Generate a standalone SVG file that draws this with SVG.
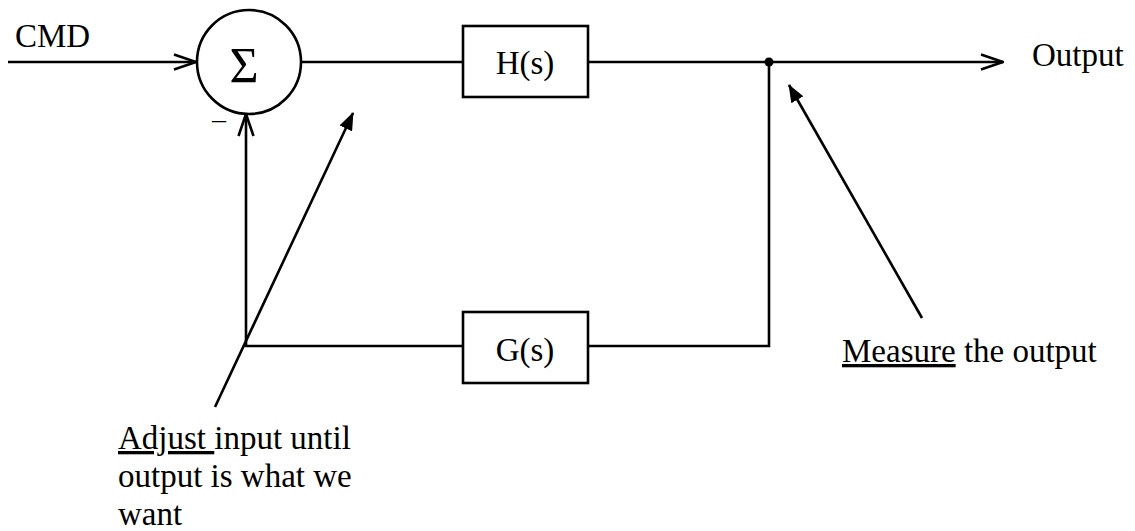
<svg xmlns="http://www.w3.org/2000/svg" width="1135" height="531" viewBox="0 0 1135 531">
  <style>
    .wire { fill: none; stroke: #000; stroke-width: 2.6; }
    .box { fill: #fff; stroke: #000; stroke-width: 2.6; }
    .lbl { font-family: "Liberation Serif", "Times New Roman", serif; font-size: 33px; fill: #000; }
    .mid { text-anchor: middle; }
  </style>
  <defs>
    <marker id="open" viewBox="0 0 24 18" refX="23" refY="9" markerWidth="24" markerHeight="18" markerUnits="userSpaceOnUse" orient="auto">
      <path d="M1,1.5 L23,9 L1,16.5" fill="none" stroke="#000" stroke-width="2.6"/>
    </marker>
    <marker id="solid" viewBox="0 0 18 14" refX="17" refY="7" markerWidth="18" markerHeight="14" markerUnits="userSpaceOnUse" orient="auto">
      <path d="M0,0 L18,7 L0,14 Z" fill="#000"/>
    </marker>
  </defs>

  <g id="connectors">
    <!-- command input into the summing junction -->
    <line class="wire" x1="8" y1="62" x2="196" y2="62" marker-end="url(#open)"/>
    <!-- forward path -->
    <line class="wire" x1="301" y1="62" x2="463" y2="62"/>
    <line class="wire" x1="588" y1="62" x2="1003" y2="62" marker-end="url(#open)"/>
    <!-- feedback path -->
    <polyline class="wire" points="769,62 769,346 588,346"/>
    <polyline class="wire" points="463,346 246,346 246,114" marker-end="url(#open)"/>
    <!-- pickoff point -->
    <circle cx="769" cy="62" r="4.5" fill="#000"/>
    <!-- annotation pointers -->
    <line class="wire" x1="215" y1="407" x2="353" y2="113" marker-end="url(#solid)"/>
    <line class="wire" x1="922" y1="318" x2="789" y2="85" marker-end="url(#solid)"/>
  </g>

  <g id="sum">
    <circle cx="249" cy="62" r="52" fill="#fff" stroke="#000" stroke-width="2.6"/>
    <text class="mid" x="244" y="82" font-family="Liberation Serif, serif" font-size="50">Σ</text>
    <text class="mid" x="219" y="128" font-family="Liberation Serif, serif" font-size="28">–</text>
  </g>

  <g id="H">
    <rect class="box" x="463" y="26" width="125" height="71"/>
    <text class="lbl mid" x="525" y="74">H(s)</text>
  </g>

  <g id="G">
    <rect class="box" x="463" y="312" width="125" height="71"/>
    <text class="lbl mid" x="525" y="361">G(s)</text>
  </g>

  <g id="cmd">
    <text class="lbl" x="15" y="47" font-size="31">CMD</text>
  </g>

  <g id="output">
    <text class="lbl" x="1032" y="66">Output</text>
  </g>

  <g id="measure-note">
    <text class="lbl" x="842" y="362"><tspan text-decoration="underline">Measure</tspan> the output</text>
  </g>

  <g id="adjust-note">
    <text class="lbl" x="118" y="449"><tspan text-decoration="underline">Adjust </tspan>input until</text>
    <text class="lbl" x="118" y="487">output is what we</text>
    <text class="lbl" x="118" y="525">want</text>
  </g>
</svg>
